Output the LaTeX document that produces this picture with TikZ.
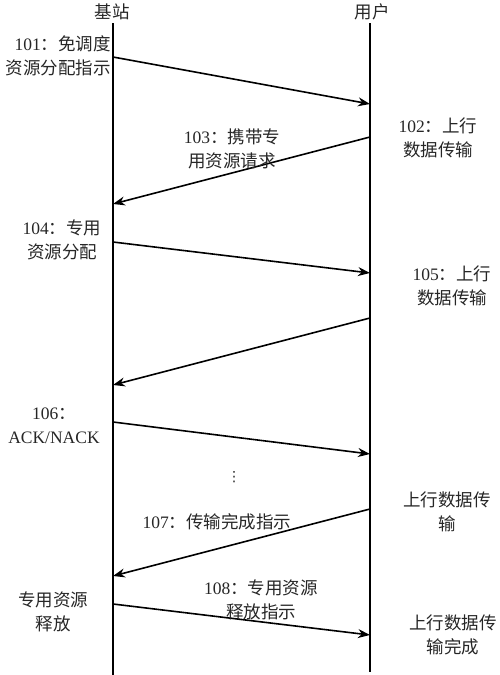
\documentclass[tikz,border=0pt]{standalone}
\usepackage{fontspec}
\setmainfont{Liberation Serif}
\newfontfamily\cjk{Noto Sans CJK SC}
\newfontfamily\symfont{DejaVu Sans}
\usetikzlibrary{arrows.meta}
\begin{document}
\begin{tikzpicture}[x=1pt,y=-1pt,
  txt/.style={font=\fontsize{17.5}{24.5}\selectfont\cjk, text=black!85, inner sep=0pt, align=center},
  life/.style={line width=1.6pt, black},
  msg/.style={line width=1.6pt, black, -{Stealth[length=12pt,width=9pt]}}]
\useasboundingbox (0,0) rectangle (500,675);
% lifelines
\coordinate (bsTop) at (113,23);
\coordinate (bsBot) at (113,675);
\coordinate (ueTop) at (370,23);
\coordinate (ueBot) at (370,672);
\draw[life] (bsTop) -- (bsBot);
\draw[life] (ueTop) -- (ueBot);
\node[txt] (bs) at (112,12) {基站};
\node[txt] (ue) at (372,12) {用户};
% message end points
\coordinate (s1) at (113,57);  \coordinate (e1) at (370,104);
\coordinate (s2) at (370,137); \coordinate (e2) at (113,204);
\coordinate (s3) at (113,242); \coordinate (e3) at (370,273);
\coordinate (s4) at (370,318); \coordinate (e4) at (113,385);
\coordinate (s5) at (113,422); \coordinate (e5) at (370,454);
\coordinate (s6) at (370,509); \coordinate (e6) at (113,576);
\coordinate (s7) at (113,604); \coordinate (e7) at (370,635);
\draw[msg] (s1) -- (e1);
\draw[msg] (s2) -- (e2);
\draw[msg] (s3) -- (e3);
\draw[msg] (s4) -- (e4);
\draw[msg] (s5) -- (e5);
\draw[msg] (s6) -- (e6);
\draw[msg] (s7) -- (e7);
% labels
\node[txt,align=right,anchor=east] (l101) at (111,56) {{\rmfamily 101}：免调度\\资源分配指示};
\node[txt] (l103) at (232,149) {{\rmfamily 103}：携带专\\用资源请求};
\node[txt] (l102) at (438,138) {{\rmfamily 102}：上行\\数据传输};
\node[txt] (l104) at (62,240) {{\rmfamily 104}：专用\\资源分配};
\node[txt] (l105) at (452,286) {{\rmfamily 105}：上行\\数据传输};
\node[txt] (l106) at (54,426) {{\rmfamily 106}：\\{\rmfamily ACK/NACK}};
\node[txt,font=\fontsize{14}{16}\selectfont\symfont] (dots) at (234,477) {⋮};
\node[txt] (l107) at (217,522) {{\rmfamily 107}：传输完成指示};
\node[txt] (r107) at (447,512) {上行数据传\\输};
\node[txt] (l108) at (261,600) {{\rmfamily 108}：专用资源\\释放指示};
\node[txt] (rel) at (53,612) {专用资源\\释放};
\node[txt] (done) at (453,635) {上行数据传\\输完成};
\end{tikzpicture}
\end{document}
